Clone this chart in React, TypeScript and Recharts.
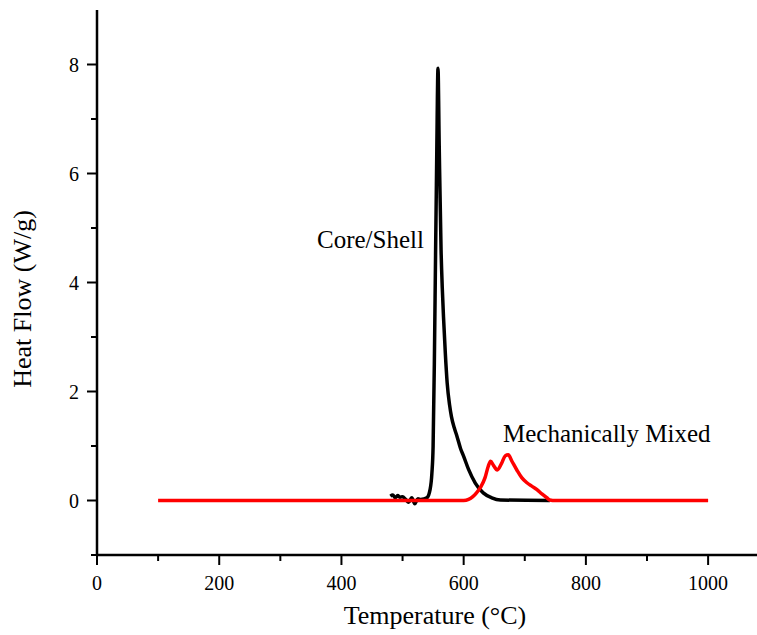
import { LineChart, Line, XAxis, YAxis } from 'recharts';

const coreShellT = [480, 484, 488, 492, 496, 500, 505, 510, 515, 520, 525, 530, 535, 540, 545, 548, 550, 552, 554, 556, 558, 560, 563, 565, 567, 570, 573, 577, 580, 585, 589, 595, 600, 608, 619, 632, 646, 660, 741];
const coreShellHF = [0.08, 0.1, 0.05, 0.09, 0.06, 0.07, 0.02, -0.03, 0.05, -0.06, 0.03, 0.02, 0.03, 0.05, 0.2, 0.5, 1.0, 2.5, 4.5, 6.4, 7.93, 6.5, 4.6, 3.9, 3.37, 2.7, 2.16, 1.75, 1.54, 1.32, 1.18, 0.95, 0.81, 0.57, 0.32, 0.14, 0.05, 0.01, 0];

const mixedT = [100, 600, 608, 615, 621, 628, 635, 640, 644, 649, 655, 662, 668, 673, 679, 687, 695, 703, 712, 720, 728, 736, 741, 750, 1000];
const mixedHF = [0, 0, 0.02, 0.07, 0.14, 0.25, 0.42, 0.62, 0.72, 0.64, 0.56, 0.68, 0.82, 0.84, 0.72, 0.56, 0.42, 0.33, 0.26, 0.2, 0.12, 0.05, 0.01, 0, 0];

const xTicks = [0, 100, 200, 300, 400, 500, 600, 700, 800, 900, 1000];
const yTicks = [-1, 0, 1, 2, 3, 4, 5, 6, 7, 8];

const coreShell = coreShellT.map((t, i) => ({ t, v: coreShellHF[i] }));
const mixed = mixedT.map((t, i) => ({ t, v: mixedHF[i] }));

const FONT = '"Liberation Serif", "Times New Roman", serif';

const XTick = (props: any) => {
  const { x, y, payload } = props;
  const major = payload.value % 200 === 0;
  return (
    <g>
      <line x1={x} x2={x} y1={y} y2={y + (major ? 10 : 6)} stroke="#000" strokeWidth={2} />
      {major && (
        <text x={x} y={y + 35} textAnchor="middle" fontFamily={FONT} fontSize={20} fill="#000">
          {payload.value}
        </text>
      )}
    </g>
  );
};

const YTick = (props: any) => {
  const { x, y, payload } = props;
  const major = payload.value % 2 === 0;
  return (
    <g>
      <line x1={x} x2={x - (major ? 10 : 6)} y1={y} y2={y} stroke="#000" strokeWidth={2} />
      {major && (
        <text x={x - 18} y={y + 7} textAnchor="end" fontFamily={FONT} fontSize={20} fill="#000">
          {payload.value}
        </text>
      )}
    </g>
  );
};

export default function App() {
  return (
    <div style={{ position: 'absolute', left: 0, top: 0, width: 757, height: 635, background: '#fff' }}>
      <LineChart width={757} height={635} margin={{ top: 10, right: 0, bottom: 0, left: 0 }}>
        <XAxis
          xAxisId="b"
          type="number"
          dataKey="t"
          domain={[0, 1080]}
          ticks={xTicks}
          tick={<XTick />}
          tickLine={false}
          tickSize={0}
          tickMargin={0}
          height={80}
          axisLine={{ stroke: '#000', strokeWidth: 2.5 }}
          allowDataOverflow
        />
        <XAxis
          xAxisId="top"
          orientation="top"
          type="number"
          domain={[0, 1080]}
          tick={false}
          tickLine={false}
          height={0}
          axisLine={{ stroke: '#000', strokeWidth: 2.5 }}
        />
        <YAxis
          type="number"
          domain={[-1, 9]}
          ticks={yTicks}
          tick={<YTick />}
          tickLine={false}
          tickSize={0}
          tickMargin={0}
          width={97}
          axisLine={{ stroke: '#000', strokeWidth: 2.5 }}
          allowDataOverflow
        />
        <Line
          xAxisId="b"
          data={coreShell}
          dataKey="v"
          type="monotone"
          stroke="#000"
          strokeWidth={3.5}
          dot={false}
          isAnimationActive={false}
        />
        <Line
          xAxisId="b"
          data={mixed}
          dataKey="v"
          type="monotone"
          stroke="#ff0000"
          strokeWidth={3.5}
          dot={false}
          isAnimationActive={false}
        />
      </LineChart>
      <svg width={757} height={635} style={{ position: 'absolute', left: 0, top: 0, pointerEvents: 'none' }}>
        <text x={435} y={624} textAnchor="middle" fontFamily={FONT} fontSize={26} fill="#000">
          Temperature (°C)
        </text>
        <text
          x={31}
          y={299}
          textAnchor="middle"
          transform="rotate(-90, 31, 299)"
          fontFamily={FONT}
          fontSize={26}
          fill="#000"
        >
          Heat Flow (W/g)
        </text>
        <text x={317} y={248} fontFamily={FONT} fontSize={25} fill="#000">
          Core/Shell
        </text>
        <text x={503} y={442} fontFamily={FONT} fontSize={25} fill="#000">
          Mechanically Mixed
        </text>
      </svg>
    </div>
  );
}
